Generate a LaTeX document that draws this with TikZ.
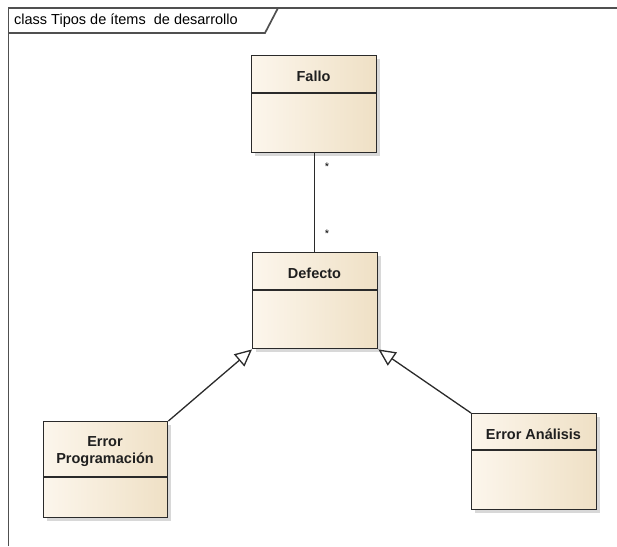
\documentclass[tikz,border=0pt]{standalone}
\usepackage{fontspec}
\setmainfont{Liberation Sans}
\usetikzlibrary{arrows.meta,shadows}

\definecolor{classL}{HTML}{FCF6EC}
\definecolor{classR}{HTML}{EFE0C5}
\definecolor{frameC}{HTML}{505050}
\definecolor{edgeC}{HTML}{2A2A2A}

\tikzset{
  classbox/.style={draw=edgeC, line width=1.4pt, inner sep=0pt, anchor=north west,
    left color=classL, right color=classR,
    drop shadow={shadow xshift=3.5pt, shadow yshift=-3.5pt, fill=black!22, opacity=0.7}},
  classname/.style={font=\fontsize{14.5}{17}\selectfont\bfseries, text=black!88, align=center, inner sep=0pt},
  divider/.style={draw=edgeC, line width=1.3pt},
  assoc/.style={draw=edgeC, line width=1.3pt},
  gen/.style={draw=edgeC, line width=1.3pt, -{Triangle[length=17pt, width=16pt, fill=white]}},
  mult/.style={font=\fontsize{11}{12}\selectfont, inner sep=0pt},
  framebox/.style={draw=frameC, line width=1.7pt},
  titletext/.style={font=\fontsize{14.5}{17}\selectfont, anchor=west, inner sep=0pt}
}

\begin{document}
\begin{tikzpicture}[x=1pt, y=-1pt]
\useasboundingbox (0,0) rectangle (617,546);

% diagram frame and its name tab
\draw[framebox] (8.5,546) -- (8.5,8) -- (617,8);
\draw[framebox] (8.5,33) -- (265,33) -- (278,8);
\node[titletext] (title) at (14,21) {class Tipos de ítems~~de desarrollo};

% classes
\node[classbox, minimum width=125pt, minimum height=97pt] (fallo) at (251,55) {};
\node[classname] (fallo-name) at (313.5,76) {Fallo};
\draw[divider] ([yshift=-38pt]fallo.north west) -- ([yshift=-38pt]fallo.north east);

\node[classbox, minimum width=125pt, minimum height=96pt] (defecto) at (252,252) {};
\node[classname] (defecto-name) at (314.5,273) {Defecto};
\draw[divider] ([yshift=-38pt]defecto.north west) -- ([yshift=-38pt]defecto.north east);

\node[classbox, minimum width=124pt, minimum height=96pt] (errprog) at (43,421) {};
\node[classname] (errprog-name) at (105,452) {Error\\Programación};
\draw[divider] ([yshift=-56pt]errprog.north west) -- ([yshift=-56pt]errprog.north east);

\node[classbox, minimum width=125pt, minimum height=96pt] (erran) at (471,413) {};
\node[classname] (erran-name) at (533.5,434) {Error Análisis};
\draw[divider] ([yshift=-37pt]erran.north west) -- ([yshift=-37pt]erran.north east);

% association Fallo -- Defecto with multiplicities
\draw[assoc] (fallo.south) -- (fallo.south |- defecto.north);
\node[mult] (mult-top) at (327,167) {*};
\node[mult] (mult-bottom) at (327,234) {*};

% generalizations
\draw[gen] (errprog.north east) -- (defecto.south west);
\draw[gen] (erran.north west) -- (defecto.south east);
\end{tikzpicture}
\end{document}
